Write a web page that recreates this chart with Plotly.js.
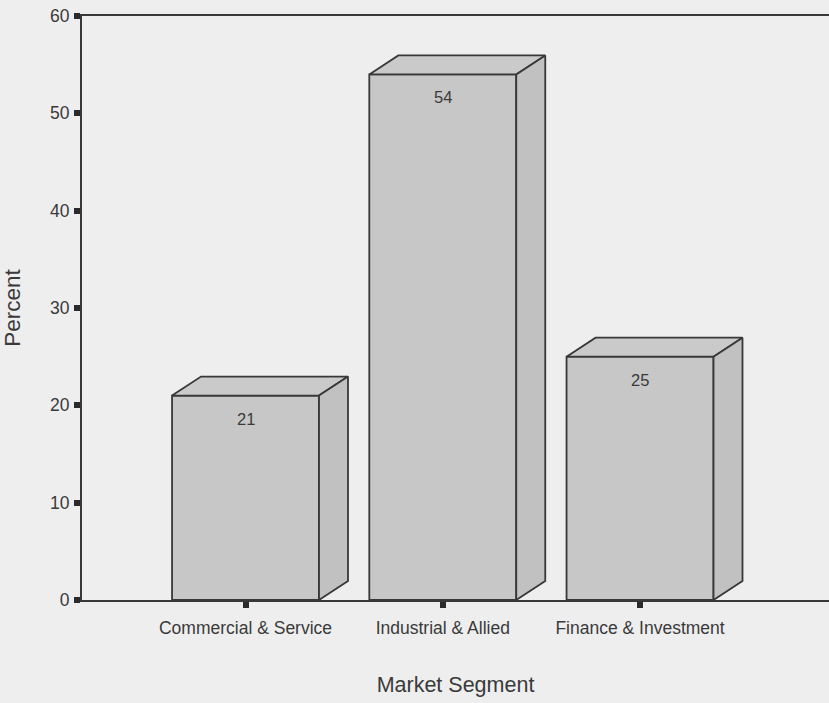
<!DOCTYPE html>
<html>
<head>
<meta charset="utf-8">
<script src="https://cdn.plot.ly/plotly-3.0.1.min.js"></script>
<style>
  html, body { margin: 0; padding: 0; background: #eeeeee; }
  #chart { width: 829px; height: 703px; }
</style>
</head>
<body>
<div id="chart"></div>
<script>
// Market segment shares (percent)
const segments = ["Commercial & Service", "Industrial & Allied", "Finance & Investment"];
const percents = [21, 54, 25];
const positions = [0, 1, 2];
const yTicks = [0, 10, 20, 30, 40, 50, 60];

// Box geometry, in axis units
const barWidth = 0.745;
const depthX = 0.147;
const depthY = 1.95;

const edge = "#383838";
const frontFill = "#c7c7c7";
const topFill = "#cacaca";
const sideFill = "#c1c1c1";
const textColor = "#3a3a3a";
const fontFamily = "'Liberation Sans', Arial, Helvetica, sans-serif";

const traces = [];

// Top and right-side faces of each box, built from its value
positions.forEach((p, i) => {
  const v = percents[i];
  const x0 = p - barWidth / 2, x1 = p + barWidth / 2;
  traces.push({
    type: "scatter", mode: "lines", fill: "toself",
    x: [x0, x1, x1 + depthX, x0 + depthX, x0],
    y: [v, v, v + depthY, v + depthY, v],
    fillcolor: topFill, line: { color: edge, width: 1.8 },
    hoverinfo: "skip", showlegend: false
  });
  traces.push({
    type: "scatter", mode: "lines", fill: "toself",
    x: [x1, x1 + depthX, x1 + depthX, x1, x1],
    y: [0, depthY, v + depthY, v, 0],
    fillcolor: sideFill, line: { color: edge, width: 1.8 },
    hoverinfo: "skip", showlegend: false
  });
});

// Front faces
traces.push({
  type: "bar",
  x: positions,
  y: percents,
  width: barWidth,
  marker: { color: frontFill, line: { color: edge, width: 1.8 } },
  hoverinfo: "x+y",
  showlegend: false
});

// Value labels inside the top of each front face
const annotations = positions.map((p, i) => ({
  x: p, y: percents[i], xref: "x", yref: "y",
  text: String(percents[i]),
  showarrow: false, yanchor: "top", yshift: -12,
  font: { family: fontFamily, size: 16.5, color: textColor }
}));

const layout = {
  width: 829, height: 703,
  margin: { l: 82, r: 0, t: 16, b: 103, pad: 0 },
  paper_bgcolor: "#eeeeee",
  plot_bgcolor: "#eeeeee",
  font: { family: fontFamily, color: textColor },
  bargap: 0,
  xaxis: {
    type: "linear",
    range: [-0.829, 2.958],
    tickvals: positions,
    ticktext: segments,
    ticks: "outside", ticklen: 6, tickwidth: 6, tickcolor: "#2a2a2a",
    ticklabelstandoff: 5,
    tickfont: { size: 17.5, color: textColor },
    showline: true, linecolor: "#383838", linewidth: 2, mirror: true,
    showgrid: false, zeroline: false,
    title: { text: "Market Segment", font: { size: 21.5, color: textColor }, standoff: 40 }
  },
  yaxis: {
    range: [0, 60],
    tickvals: yTicks,
    ticks: "outside", ticklen: 6, tickwidth: 6, tickcolor: "#2a2a2a",
    ticklabelstandoff: 1,
    tickfont: { size: 17.5, color: textColor },
    showline: true, linecolor: "#383838", linewidth: 2, mirror: false,
    showgrid: false, zeroline: false,
    title: { text: "Percent", font: { size: 22.5, color: textColor }, standoff: 24 }
  },
  annotations: annotations
};

Plotly.newPlot("chart", traces, layout, { displayModeBar: false, staticPlot: true });
</script>
</body>
</html>
